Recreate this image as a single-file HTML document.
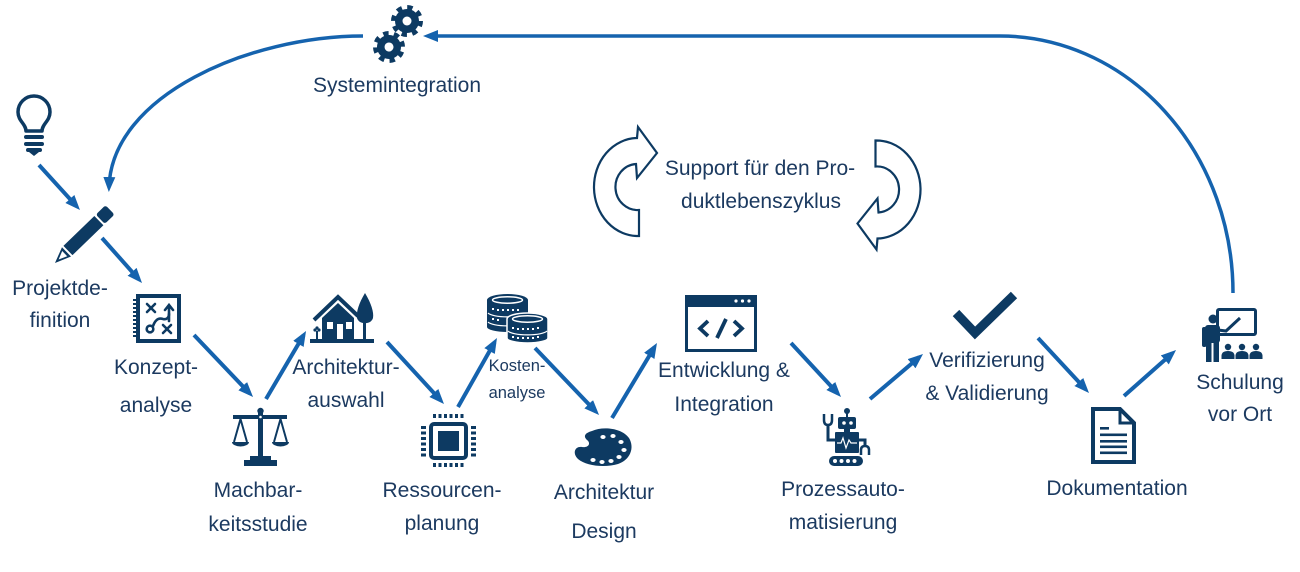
<!DOCTYPE html>
<html>
<head>
<meta charset="utf-8">
<style>
  html,body{margin:0;padding:0;background:#fff;}
  svg{display:block;}
  text{font-family:"Liberation Sans","DejaVu Sans",sans-serif;fill:#1c3a60;}
</style>
</head>
<body>
<svg width="1300" height="572" viewBox="0 0 1300 572" xmlns="http://www.w3.org/2000/svg">
  <defs>
    <marker id="ah" markerUnits="userSpaceOnUse" markerWidth="16" markerHeight="14" refX="10" refY="6" orient="auto">
      <path d="M0,0 L15,6 L0,12 Z" fill="#1563ae"/>
    </marker>
    <marker id="ah2" markerUnits="userSpaceOnUse" markerWidth="16" markerHeight="14" refX="10" refY="6" orient="auto">
      <path d="M0,0 L15,6 L0,12 Z" fill="#1563ae"/>
    </marker>
  </defs>
  <rect width="1300" height="572" fill="#fff"/>

  <!-- big curves -->
  <path d="M1233,293 A233,257 0 0 0 1000,36 L428,36" fill="none" stroke="#1563ae" stroke-width="3.5" marker-end="url(#ah2)"/>
  <path d="M363,36 C250,36 112,95 109,187" fill="none" stroke="#1563ae" stroke-width="3.5" marker-end="url(#ah2)"/>

  <!-- straight arrows -->
  <g stroke="#1563ae" stroke-width="4" fill="none" marker-end="url(#ah)">
    <line x1="39" y1="165" x2="76.6" y2="206.3"/>
    <line x1="102" y1="238" x2="138.7" y2="279.3"/>
    <line x1="194" y1="335" x2="249.6" y2="393.4"/>
    <line x1="266" y1="399" x2="303.5" y2="335.3"/>
    <line x1="387" y1="342" x2="440.6" y2="400.3"/>
    <line x1="458" y1="407" x2="494.5" y2="342.4"/>
    <line x1="535" y1="348" x2="595.6" y2="411.4"/>
    <line x1="612" y1="418" x2="654.4" y2="347.3"/>
    <line x1="791" y1="343" x2="837.6" y2="393.3"/>
    <line x1="870" y1="399" x2="919.2" y2="357.2"/>
    <line x1="1038" y1="338" x2="1085.6" y2="389.3"/>
    <line x1="1124" y1="396" x2="1172.3" y2="353.3"/>
  </g>

  <!-- gears -->
  <g transform="translate(407,21)">
    <circle r="12" fill="#0d3a62"/>
    <circle r="13.5" fill="none" stroke="#0d3a62" stroke-width="5" stroke-dasharray="5.3 5.3"/>
    <circle r="4.5" fill="#fff"/>
  </g>
  <g transform="translate(389,47) rotate(20)">
    <circle r="12" fill="#0d3a62"/>
    <circle r="13.5" fill="none" stroke="#0d3a62" stroke-width="5" stroke-dasharray="5.3 5.3"/>
    <circle r="4.5" fill="#fff"/>
  </g>

  <!-- bulb -->
  <path d="M26,131 C26,124 18,121 18,112 A16,16 0 1 1 50,112 C50,121 42,124 42,131 Z" fill="none" stroke="#0d3a62" stroke-width="3.5" stroke-linejoin="round"/>
  <rect x="24" y="135" width="20" height="4" rx="2" fill="#0d3a62"/>
  <rect x="24" y="142" width="20" height="4" rx="2" fill="#0d3a62"/>
  <rect x="26" y="148" width="16" height="4" rx="2" fill="#0d3a62"/>
  <path d="M29,152 L39,152 L34,156 Z" fill="#0d3a62"/>

  <!-- pen -->
  <g transform="translate(55,263) rotate(-44)">
    <polygon points="0,0 16,-6.5 16,6.5" fill="#0d3a62"/>
    <polygon points="5,0 13.5,-3.6 13.5,3.6" fill="#fff"/>
    <polygon points="1,0 5,-1.8 5,1.8" fill="#0d3a62"/>
    <rect x="18" y="-6.5" width="43" height="13" fill="#0d3a62"/>
    <rect x="63" y="-6.5" width="13.5" height="13" rx="2.5" fill="#0d3a62"/>
  </g>

  <!-- Konzept icon -->
  <g>
    <rect x="138" y="296" width="41" height="45" fill="none" stroke="#0d3a62" stroke-width="4"/>
    <g fill="#0d3a62">
      <rect x="133" y="299" width="4" height="2"/><rect x="133" y="303" width="4" height="2"/>
      <rect x="133" y="307" width="4" height="2"/><rect x="133" y="311" width="4" height="2"/>
      <rect x="133" y="315" width="4" height="2"/><rect x="133" y="319" width="4" height="2"/>
      <rect x="133" y="323" width="4" height="2"/><rect x="133" y="327" width="4" height="2"/>
      <rect x="133" y="331" width="4" height="2"/><rect x="133" y="335" width="4" height="2"/>
    </g>
    <g stroke="#0d3a62" stroke-width="2.6" fill="none" stroke-linecap="round">
      <line x1="147" y1="304" x2="155" y2="312"/><line x1="155" y1="304" x2="147" y2="312"/>
      <line x1="163" y1="325" x2="171" y2="333"/><line x1="171" y1="325" x2="163" y2="333"/>
      <circle cx="150" cy="329" r="3.3"/>
      <path d="M169,321 L169,306 M165,310 L169,305 L173,310"/>
      <path d="M153,326 C156,318 160,318 163,319 C167,320 169,317 169,314"/>
    </g>
  </g>

  <!-- house -->
  <g fill="#0d3a62">
    <polyline points="314,320 338,297 358,316" fill="none" stroke="#0d3a62" stroke-width="4"/>
    <polygon points="322,340 322,318 338,303 354,318 354,340"/>
    <rect x="327" y="322" width="6" height="7" fill="#fff"/>
    <rect x="346" y="322" width="6" height="7" fill="#fff"/>
    <rect x="337" y="324" width="6" height="16" fill="#fff"/>
    <path d="M365,293 C359,303 356,312 357,318 C359,325 371,325 373,318 C374,312 371,303 365,293 Z"/>
    <rect x="363" y="316" width="3" height="24"/>
    <rect x="310" y="339" width="64" height="4"/>
    <rect x="316" y="331" width="2" height="8"/>
    <circle cx="315" cy="330" r="1.6"/><circle cx="319" cy="330" r="1.6"/><circle cx="317" cy="328" r="1.6"/>
  </g>

  <!-- coins -->
  <g>
    <path d="M487,300 A20.5,6 0 0 1 528,300 L528,327 A20.5,5 0 0 1 487,327 Z" fill="#0d3a62"/>
    <ellipse cx="507.5" cy="300" rx="15" ry="3.2" fill="none" stroke="#fff" stroke-width="1.5"/>
    <path d="M488,313 A20,5 0 0 0 527,313 M488,322 A20,5 0 0 0 527,322" fill="none" stroke="#fff" stroke-width="1.2"/>
    <g fill="#fff">
      <rect x="492" y="308" width="2" height="2"/><rect x="497" y="309" width="2" height="2"/><rect x="502" y="309" width="2" height="2"/><rect x="507" y="309" width="2" height="2"/><rect x="512" y="309" width="2" height="2"/><rect x="517" y="309" width="2" height="2"/>
      <rect x="492" y="318" width="2" height="2"/><rect x="497" y="319" width="2" height="2"/>
    </g>
    <path d="M507,319 A20.5,6 0 0 1 548,319 L548,338 A20.5,5 0 0 1 507,338 Z" fill="#0d3a62" stroke="#fff" stroke-width="1.5"/>
    <ellipse cx="527.5" cy="319" rx="15" ry="3.2" fill="none" stroke="#fff" stroke-width="1.5"/>
    <path d="M508,331 A20,5 0 0 0 547,331" fill="none" stroke="#fff" stroke-width="1.2"/>
    <g fill="#fff">
      <rect x="512" y="327" width="2" height="2"/><rect x="517" y="328" width="2" height="2"/><rect x="522" y="328" width="2" height="2"/><rect x="527" y="328" width="2" height="2"/><rect x="532" y="328" width="2" height="2"/><rect x="537" y="327" width="2" height="2"/>
      <rect x="512" y="336" width="2" height="2"/><rect x="517" y="337" width="2" height="2"/><rect x="522" y="337" width="2" height="2"/><rect x="527" y="337" width="2" height="2"/><rect x="532" y="337" width="2" height="2"/><rect x="537" y="336" width="2" height="2"/>
    </g>
  </g>

  <!-- scale -->
  <g fill="#0d3a62">
    <rect x="258" y="410" width="5" height="50"/>
    <rect x="233" y="415" width="54" height="4"/>
    <circle cx="260.5" cy="411" r="3.2"/>
    <circle cx="260.5" cy="417" r="1.3" fill="#fff"/>
    <path d="M240.5,419 L234,442 M240.5,419 L247,442 M280.5,419 L274,442 M280.5,419 L287,442" stroke="#0d3a62" stroke-width="2" fill="none"/>
    <path d="M232,442 h17 a8.5,4.5 0 0 1 -17,0 Z"/>
    <path d="M272,442 h17 a8.5,4.5 0 0 1 -17,0 Z"/>
    <rect x="250" y="456" width="21" height="5"/>
    <rect x="244" y="460" width="33" height="6"/>
  </g>

  <!-- chip -->
  <g fill="#0d3a62">
    <rect x="431" y="424" width="35" height="34" rx="3" fill="none" stroke="#0d3a62" stroke-width="4"/>
    <rect x="438" y="431" width="21" height="20"/>
    <rect x="433" y="414" width="3" height="4"/><rect x="438.5" y="414" width="3" height="4"/><rect x="444" y="414" width="3" height="4"/><rect x="449.5" y="414" width="3" height="4"/><rect x="455" y="414" width="3" height="4"/><rect x="460.5" y="414" width="3" height="4"/>
    <rect x="433" y="463" width="3" height="4"/><rect x="438.5" y="463" width="3" height="4"/><rect x="444" y="463" width="3" height="4"/><rect x="449.5" y="463" width="3" height="4"/><rect x="455" y="463" width="3" height="4"/><rect x="460.5" y="463" width="3" height="4"/>
    <rect x="421" y="426" width="5" height="3"/><rect x="421" y="431.5" width="5" height="3"/><rect x="421" y="437" width="5" height="3"/><rect x="421" y="442.5" width="5" height="3"/><rect x="421" y="448" width="5" height="3"/><rect x="421" y="453.5" width="5" height="3"/>
    <rect x="471" y="426" width="5" height="3"/><rect x="471" y="431.5" width="5" height="3"/><rect x="471" y="437" width="5" height="3"/><rect x="471" y="442.5" width="5" height="3"/><rect x="471" y="448" width="5" height="3"/><rect x="471" y="453.5" width="5" height="3"/>
  </g>

  <!-- palette -->
  <g>
    <path d="M592,431 C603,426 622,428 629,438 C635,448 630,460 618,464 C605,468 586,466 578,459 C572,453 575,446 582,447 C589,448 591,443 587,440 C583,436 585,433 592,431 Z" fill="#0d3a62"/>
    <g fill="#fff">
      <ellipse cx="603" cy="437" rx="2.6" ry="2"/>
      <ellipse cx="613" cy="436" rx="2.6" ry="2"/>
      <ellipse cx="621" cy="442" rx="2.6" ry="2"/>
      <ellipse cx="624" cy="450" rx="2.6" ry="2"/>
      <ellipse cx="619" cy="457" rx="2.6" ry="2"/>
      <ellipse cx="611" cy="461" rx="2.6" ry="2"/>
      <ellipse cx="602" cy="462" rx="2.6" ry="2"/>
      <ellipse cx="593" cy="460" rx="2.6" ry="2"/>
    </g>
  </g>

  <!-- code window -->
  <g>
    <rect x="686.5" y="296.5" width="69" height="54" fill="none" stroke="#0d3a62" stroke-width="3"/>
    <rect x="686" y="295" width="71" height="12" fill="#0d3a62"/>
    <circle cx="736" cy="301" r="1.6" fill="#fff"/><circle cx="742.5" cy="301" r="1.6" fill="#fff"/><circle cx="749" cy="301" r="1.6" fill="#fff"/>
    <g stroke="#0d3a62" stroke-width="3.8" fill="none">
      <polyline points="708,321 700,328.5 708,336"/>
      <line x1="726" y1="319" x2="717" y2="338"/>
      <polyline points="734,321 742,328.5 734,336"/>
    </g>
  </g>

  <!-- robot -->
  <g fill="#0d3a62">
    <circle cx="847" cy="411" r="3"/>
    <rect x="846" y="413" width="2" height="5"/>
    <rect x="838" y="417" width="18" height="12" rx="2"/>
    <circle cx="844" cy="423" r="1.8" fill="#fff"/><circle cx="851" cy="423" r="1.8" fill="#fff"/>
    <rect x="844" y="429" width="6" height="3"/>
    <rect x="835" y="432" width="24" height="21" rx="1"/>
    <polyline points="837,443 841,443 843,438 846,448 849,440 851,443 857,443" fill="none" stroke="#fff" stroke-width="1.2"/>
    <path d="M835,440 L828,440 L828,425" fill="none" stroke="#0d3a62" stroke-width="3"/>
    <path d="M824,414 L824,420 Q824,425 828,425 Q832,425 832,420 L832,414" fill="none" stroke="#0d3a62" stroke-width="2.5"/>
    <path d="M859,440 L865,440 L865,446" fill="none" stroke="#0d3a62" stroke-width="3"/>
    <path d="M861,455 L861,450 Q861,446 865,446 Q869,446 869,450 L869,455" fill="none" stroke="#0d3a62" stroke-width="2.5"/>
    <rect x="829" y="456" width="34" height="10" rx="5"/>
    <circle cx="835" cy="461" r="2" fill="#fff"/><circle cx="841.5" cy="461" r="2" fill="#fff"/><circle cx="848" cy="461" r="2" fill="#fff"/><circle cx="854.5" cy="461" r="2" fill="#fff"/>
  </g>

  <!-- check -->
  <polyline points="956,313 975,333 1014,295" fill="none" stroke="#0d3a62" stroke-width="9"/>

  <!-- document -->
  <g>
    <path d="M1093,409 L1120,409 L1134,423 L1134,462 L1093,462 Z" fill="#fff" stroke="#0d3a62" stroke-width="4" stroke-linejoin="miter"/>
    <polyline points="1120,409 1120,423 1134,423" fill="none" stroke="#0d3a62" stroke-width="3"/>
    <g fill="#0d3a62">
      <rect x="1100" y="427" width="9" height="2.6"/>
      <rect x="1100" y="433.5" width="27" height="2.6"/>
      <rect x="1100" y="440" width="27" height="2.6"/>
      <rect x="1100" y="445.5" width="27" height="2.6"/>
      <rect x="1100" y="451.5" width="27" height="2.6"/>
    </g>
  </g>

  <!-- teacher -->
  <g fill="#0d3a62">
    <rect x="1217.5" y="309.5" width="38" height="25" rx="1.5" fill="none" stroke="#0d3a62" stroke-width="3"/>
    <circle cx="1213" cy="319" r="4.5"/>
    <rect x="1205" y="325" width="15" height="18" rx="3"/>
    <rect x="1202" y="327" width="4.5" height="20" rx="2"/>
    <rect x="1206" y="340" width="5.5" height="22"/>
    <rect x="1213.5" y="340" width="5.5" height="22"/>
    <polyline points="1218,330 1226,331 1240,318" fill="none" stroke="#0d3a62" stroke-width="3"/>
    <circle cx="1228" cy="347" r="3.2"/><circle cx="1242" cy="347" r="3.2"/><circle cx="1256" cy="347" r="3.2"/>
    <path d="M1221.5,359 L1221.5,356 Q1221.5,351 1228,351 Q1234.5,351 1234.5,356 L1234.5,359 Z"/>
    <path d="M1235.5,359 L1235.5,356 Q1235.5,351 1242,351 Q1248.5,351 1248.5,356 L1248.5,359 Z"/>
    <path d="M1249.5,359 L1249.5,356 Q1249.5,351 1256,351 Q1262.5,351 1262.5,356 L1262.5,359 Z"/>
  </g>

  <!-- circular arrows -->
  <path d="M639,236 A44,49 0 0 1 637,138 L638,127 L657,153 L637,178 L636,164 A22,23 0 0 0 639,210 Z" fill="#fff" stroke="#0d3a62" stroke-width="2.2" stroke-linejoin="miter"/>
  <g transform="rotate(180 757.25 188.25)">
    <path d="M639,236 A44,49 0 0 1 637,138 L638,127 L657,153 L637,178 L636,164 A22,23 0 0 0 639,210 Z" fill="#fff" stroke="#0d3a62" stroke-width="2.2" stroke-linejoin="miter"/>
  </g>

  <!-- labels -->
  <g font-size="21" text-anchor="middle">
    <text x="397" y="92">Systemintegration</text>
    <text x="760" y="175">Support für den Pro-</text>
    <text x="761" y="208">duktlebenszyklus</text>
    <text x="60" y="295">Projektde-</text>
    <text x="60" y="327">finition</text>
    <text x="156" y="374">Konzept-</text>
    <text x="156" y="412">analyse</text>
    <text x="346" y="374">Architektur-</text>
    <text x="346" y="407">auswahl</text>
    <text x="258" y="497">Machbar-</text>
    <text x="258" y="531">keitsstudie</text>
    <text x="442" y="497">Ressourcen-</text>
    <text x="442" y="530">planung</text>
    <text x="604" y="499">Architektur</text>
    <text x="604" y="538">Design</text>
    <text x="724" y="377">Entwicklung &amp;</text>
    <text x="724" y="411">Integration</text>
    <text x="843" y="496">Prozessauto-</text>
    <text x="843" y="529">matisierung</text>
    <text x="987" y="367">Verifizierung</text>
    <text x="987" y="400">&amp; Validierung</text>
    <text x="1117" y="495">Dokumentation</text>
    <text x="1240" y="389">Schulung</text>
    <text x="1240" y="421">vor Ort</text>
  </g>
  <g font-size="16.5" text-anchor="middle">
    <text x="517" y="371">Kosten-</text>
    <text x="517" y="398">analyse</text>
  </g>
</svg>
</body>
</html>
